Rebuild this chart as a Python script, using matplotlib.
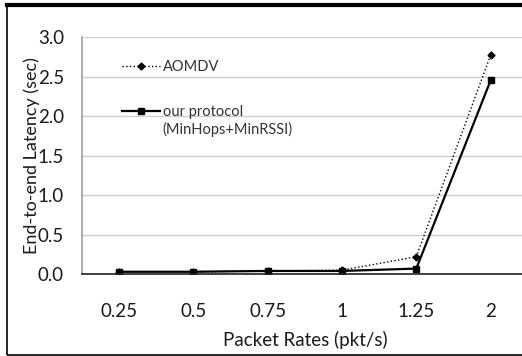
import numpy as np
import matplotlib.pyplot as plt
from matplotlib.patches import Rectangle

rates = ['0.25', '0.5', '0.75', '1', '1.25', '2']
aomdv = [0.03, 0.03, 0.04, 0.05, 0.22, 2.77]
ours = [0.03, 0.03, 0.04, 0.04, 0.07, 2.45]

plt.rcParams['font.family'] = ['Lato', 'DejaVu Sans']

fig = plt.figure(figsize=(5.22, 3.56), dpi=100)
ax = fig.add_axes([0.157, 0.230, 0.854, 0.666])

x = np.arange(len(rates))
ax.plot(x, aomdv, color='black', linestyle=':', linewidth=1.0,
        marker='D', markersize=3.5, label='AOMDV')
ax.plot(x, ours, color='black', linestyle='-', linewidth=1.6,
        marker='s', markersize=4, label='our protocol')

ax.set_xlim(-0.5, len(rates) - 0.5)
ax.set_ylim(0, 3.0)
ax.set_xticks(x)
ax.set_xticklabels(rates)
ax.set_yticks(np.arange(0, 3.01, 0.5))
ax.set_yticklabels(['%.1f' % v for v in np.arange(0, 3.01, 0.5)])
ax.tick_params(axis='both', length=0, labelsize=13.5, labelcolor='#1a1a1a')
ax.tick_params(axis='x', pad=21)
ax.tick_params(axis='y', pad=13)

ax.grid(axis='y', color='#d0d0d0', linewidth=1.0)
ax.set_axisbelow(True)
for s in ['top', 'right']:
    ax.spines[s].set_visible(False)
ax.spines['left'].set_color('#a0a0a0')
ax.spines['left'].set_linewidth(1.2)
ax.spines['bottom'].set_color('#222222')
ax.spines['bottom'].set_linewidth(1.2)

ax.set_xlabel('Packet Rates (pkt/s)', fontsize=13.5, labelpad=8, color='#1a1a1a')
ax.set_ylabel('End-to-end Latency (sec)', fontsize=13, color='#1a1a1a')
ax.yaxis.set_label_coords(-0.095, 0.5)

leg = ax.legend(loc='upper left', bbox_to_anchor=(0.06, 0.958), frameon=False,
                fontsize=10.5, handlelength=2.6, handletextpad=0.2, labelspacing=2.1)
for t in leg.get_texts():
    t.set_color('#333333')
# second line of the protocol label sits under the first one
ax.annotate('(MinHops+MinRSSI)', xy=(0, 0), xycoords=leg.get_texts()[1],
            xytext=(0, -2), textcoords='offset points', va='top', ha='left',
            fontsize=10.5, color='#333333', zorder=10)

# outer frame of the original picture
fig.patches.append(Rectangle((7 / 522, 1 / 356), 1.2, 350 / 356, transform=fig.transFigure,
                             fill=False, edgecolor='black', linewidth=1.2))
fig.add_artist(plt.Line2D([7 / 522, 1.0], [351 / 356, 351 / 356], transform=fig.transFigure,
                          color='black', linewidth=3))

fig.savefig('out.png', dpi=100)
